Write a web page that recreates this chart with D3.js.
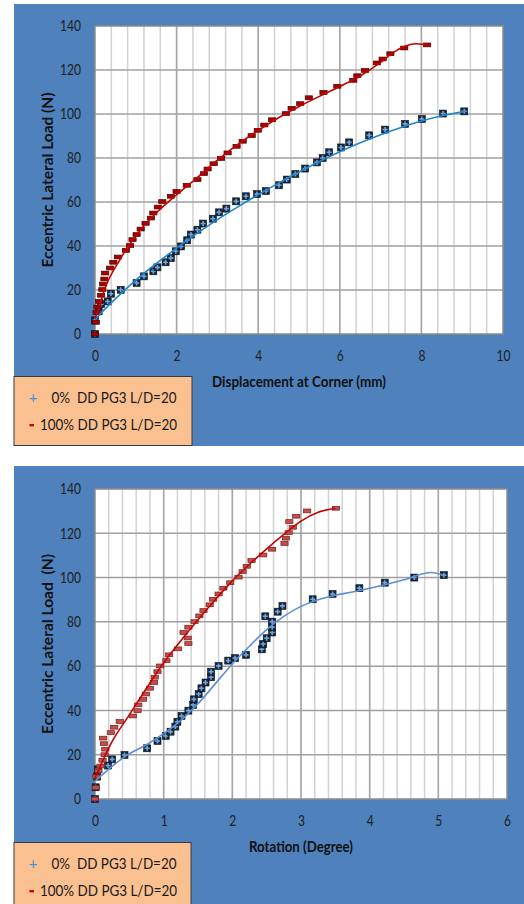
<!DOCTYPE html>
<html>
<head>
<meta charset="utf-8">
<script src="https://cdn.jsdelivr.net/npm/d3@7"></script>
<style>
    body { margin: 0; background: #fff; }
    svg { display: block; }
    text { font-family: Lato, "Open Sans", sans-serif; white-space: pre; }
</style>
</head>
<body>
<svg id="chart" width="524" height="904"></svg>
<script>
'use strict';

// legend + axis text
var legendLabels = ["0%  DD PG3 L/D=20", "100% DD PG3 L/D=20"];
var yTitle1 = "Eccentric Lateral Load (N)";
var yTitle2 = "Eccentric Lateral Load  (N)";
var xTitle1 = "Displacement at Corner (mm)";
var xTitle2 = "Rotation (Degree)";
var yTicks = [0, 20, 40, 60, 80, 100, 120, 140];
var xTicks1 = [0, 2, 4, 6, 8, 10];
var xTicks2 = [0, 1, 2, 3, 4, 5, 6];

// chart 1: displacement (mm) vs load (N)
var dispBlue = [[0,0],[0,6.2],[0.09,10.3],[0.15,13.6],[0.31,14.8],[0.39,18.3],[0.63,20.1],[1.02,23.2],[1.2,26.2],
    [1.43,28.5],[1.53,30.3],[1.73,32.6],[1.86,34.5],[1.98,37.6],[2.11,39.8],[2.26,42.6],[2.35,45.2],[2.51,47.4],
    [2.65,50.2],[2.89,52.4],[3.04,55.3],[3.22,57],[3.46,60.3],[3.7,62.6],[3.97,63.6],[4.19,65],[4.51,67.6],
    [4.7,70.2],[4.91,72.7],[5.15,75.2],[5.44,78],[5.58,80],[5.74,82.6],[6.03,84.8],[6.23,87.1],[6.72,90.3],
    [7.11,92.9],[7.6,95.5],[8.01,97.7],[8.53,100.2],[9.05,101.2]];
var dispRed = [[0,0],[0.02,5.3],[0.04,9.8],[0.06,12.3],[0.1,14.8],[0.15,17.6],[0.18,20.2],[0.2,22.7],[0.23,25],
    [0.25,27.7],[0.37,30],[0.45,32.6],[0.56,35],[0.76,38],[0.86,40.2],[0.92,42.9],[1.02,45.2],[1.12,47.7],
    [1.24,50.3],[1.37,52.7],[1.43,55],[1.54,57.7],[1.65,60.2],[1.86,62.6],[2.0,64.8],[2.25,67.6],[2.51,70.2],
    [2.67,72.9],[2.76,75],[2.91,77.4],[3.09,79.8],[3.25,82.3],[3.47,85.3],[3.62,87.6],[3.84,90.2],[3.99,92.6],
    [4.15,95],[4.34,97.4],[4.68,100.2],[4.82,102.6],[5.03,104.7],[5.24,107.4],[5.6,109.8],[5.94,112.6],
    [6.33,115.3],[6.43,117.4],[6.62,119.8],[6.91,123.2],[7.05,125],[7.24,127.4],[7.58,130],[8.14,131.4]];
var dispBlueTrend = [[0,6.5],[0.2,10.5],[0.5,16],[1,24.5],[1.5,32],[2,39],[2.5,45.7],[3,52],[3.5,57.8],[4,63.3],
    [4.5,68.6],[5,73.6],[5.5,78.4],[6,82.8],[6.5,86.9],[7,90.6],[7.5,93.9],[8,96.8],[8.5,99.2],[9.07,101.2]];
var dispRedTrend = [[0,7],[0.08,11],[0.25,21],[0.6,33.5],[1.1,47],[1.5,55],[2,63.3],[2.5,71],[3,79],
    [3.5,86.2],[4,92.5],[4.5,98.3],[5,103.4],[5.5,108],[6,112.5],[6.5,117.3],[7,123.5],[7.3,127.8],
    [7.6,130.8],[7.88,131.9],[8.2,131.2]];

// chart 2: rotation (degree) vs load (N)
var rotBlue = [[0,0],[0.01,5.3],[0.03,10.1],[0.04,13.4],[0.19,15.1],[0.25,17.9],[0.43,19.9],[0.76,22.9],
    [0.91,26.2],[1.03,28.5],[1.1,30.4],[1.17,32.7],[1.2,34.9],[1.26,37.5],[1.36,39.9],[1.43,42.5],[1.44,45],
    [1.51,47.4],[1.55,50],[1.61,52.6],[1.69,55],[1.69,57.5],[1.8,60.1],[1.94,62.5],[2.04,63.6],[2.2,65.1],
    [2.43,67.6],[2.45,70],[2.5,72.6],[2.58,75.2],[2.58,77.6],[2.58,80.1],[2.48,82.5],[2.66,84.6],[2.73,87.2],
    [3.17,90.2],[3.46,92.6],[3.85,95.2],[4.22,97.7],[4.65,100],[5.08,101.1]];
var rotRed = [[0,0],[0.01,5.1],[0.02,10.1],[0.05,12.7],[0.08,14.9],[0.11,17.5],[0.14,20],[0.15,22.5],[0.13,25],
    [0.12,27.5],[0.23,30],[0.28,32.4],[0.36,35],[0.55,37.5],[0.62,39.9],[0.63,42.5],[0.7,45],[0.74,47.4],
    [0.8,50],[0.86,52.6],[0.87,55],[0.91,57.5],[0.95,60.1],[1.04,62.5],[1.08,65.1],[1.21,67.8],[1.36,70.2],
    [1.35,72.7],[1.29,75.2],[1.36,77.6],[1.45,80.1],[1.52,82.7],[1.58,85.1],[1.67,87.7],[1.72,90.2],[1.8,92.6],
    [1.87,95.2],[1.97,97.7],[2.09,100.2],[2.15,102.7],[2.21,105.1],[2.28,107.7],[2.45,110.2],[2.58,112.8],
    [2.76,115.4],[2.78,117.8],[2.82,120.3],[2.88,122.7],[2.83,125.3],[2.93,127.7],[3.09,130.1],[3.51,131.3]];
var rotBlueTrend = [[0,8],[0.2,13.5],[0.45,19.5],[0.75,24.5],[1,29.5],[1.25,35.5],[1.5,43],[1.75,52],[2,61],
    [2.25,69],[2.5,76.5],[2.75,82.5],[3,87],[3.25,90],[3.5,92],[3.75,93.5],[4,95.2],[4.25,97],[4.5,99],
    [4.75,101.5],[4.9,102.3],[5.08,101]];
var rotRedTrend = [[0,9.5],[0.25,26],[0.5,38],[0.75,50],[1,61.5],[1.25,71.5],[1.5,81],[1.75,90],[2,98.5],
    [2.25,106],[2.5,113],[2.75,119.5],[3,125.5],[3.25,129.5],[3.5,131.3]];

var svg = d3.select('#chart');

// squeeze text to the narrow width seen in the picture
function fit(sel, perChar) {
    sel.each(function() {
        var t = d3.select(this);
        t.attr('textLength', t.text().length * perChar).attr('lengthAdjust', 'spacingAndGlyphs');
    });
}

function drawChart(c) {
    var g = svg.append('g');
    g.append('rect')
        .attr('x', c.panel[0]).attr('y', c.panel[1])
        .attr('width', c.panel[2]).attr('height', c.panel[3])
        .style('fill', '#4f81bd');

    var x = d3.scaleLinear().domain([0, c.xMax]).range([c.left, c.right]);
    var y = d3.scaleLinear().domain([0, 140]).range([c.bottom, c.top]);

    g.append('rect')
        .attr('x', c.left).attr('y', c.top)
        .attr('width', c.right - c.left).attr('height', c.bottom - c.top)
        .style('fill', '#fff');

    // gridlines
    g.selectAll('line.vminor').data(d3.range(c.minor, c.xMax - 0.001, c.minor)).enter()
        .append('line')
        .attr('x1', function(d) { return x(d); }).attr('x2', function(d) { return x(d); })
        .attr('y1', c.top).attr('y2', c.bottom)
        .style('stroke', '#d2d2d2').style('stroke-width', 1.5);
    g.selectAll('line.vmajor').data(c.xTicks.slice(1, -1)).enter()
        .append('line')
        .attr('x1', function(d) { return x(d); }).attr('x2', function(d) { return x(d); })
        .attr('y1', c.top).attr('y2', c.bottom)
        .style('stroke', '#a6a6a6').style('stroke-width', 1.5);
    g.selectAll('line.hgrid').data(yTicks.slice(1, -1)).enter()
        .append('line')
        .attr('x1', c.left).attr('x2', c.right)
        .attr('y1', function(d) { return y(d); }).attr('y2', function(d) { return y(d); })
        .style('stroke', '#a0a0a0').style('stroke-width', 1.5);
    g.append('rect')
        .attr('x', c.left).attr('y', c.top)
        .attr('width', c.right - c.left).attr('height', c.bottom - c.top)
        .style('fill', 'none').style('stroke', '#8c8c8c').style('stroke-width', 1.5);

    // axes (labels only)
    var ya = g.append('g').attr('transform', 'translate(' + (c.left - 14) + ',0)')
        .call(d3.axisLeft(y).tickValues(yTicks).tickFormat(d3.format('d')).tickSize(0).tickPadding(0));
    var xa = g.append('g').attr('transform', 'translate(0,' + (c.bottom + 16) + ')')
        .call(d3.axisBottom(x).tickValues(c.xTicks).tickFormat(d3.format('d')).tickSize(0).tickPadding(0));
    [ya, xa].forEach(function(a) {
        a.select('.domain').remove();
        a.selectAll('text').style('font-family', 'Lato, sans-serif').style('font-size', '15px').style('fill', '#1e1e1e');
        fit(a.selectAll('text'), 7);
    });

    g.append('text')
        .attr('x', (c.left + c.right) / 2).attr('y', c.xTitleY)
        .attr('text-anchor', 'middle')
        .style('font-size', '14.5px').style('font-weight', 'bold').style('fill', '#111')
        .attr('textLength', c.xTitleW).attr('lengthAdjust', 'spacingAndGlyphs')
        .text(c.xTitle);
    g.append('text')
        .attr('transform', 'translate(' + 53 + ',' + (c.top + c.bottom) / 2 + ') rotate(-90)')
        .attr('text-anchor', 'middle')
        .style('font-size', '14.5px').style('font-weight', 'bold').style('fill', '#111')
        .attr('textLength', c.yTitleW).attr('lengthAdjust', 'spacingAndGlyphs')
        .text(c.yTitle);

    // markers: blue squares with a light plus, red dashes
    var bm = g.selectAll('g.bm').data(c.blue).enter().append('g')
        .attr('transform', function(d) { return 'translate(' + x(d[0]) + ',' + y(d[1]) + ')'; });
    bm.append('rect').attr('x', -3.5).attr('y', -3.5).attr('width', 7).attr('height', 7)
        .style('fill', '#16263a').style('stroke', '#0d1622').style('stroke-width', 0.6);
    bm.append('path').attr('d', 'M-2.5,0H2.5M0,-2.5V2.5')
        .style('stroke', '#6fa3dc').style('stroke-width', 1.6);
    g.selectAll('rect.rm').data(c.red).enter().append('rect')
        .attr('x', function(d) { return x(d[0]) - 3.6; })
        .attr('y', function(d) { return y(d[1]) - 1.9; })
        .attr('width', 7.2).attr('height', 3.8)
        .style('fill', c.redFill).style('stroke', c.redStroke).style('stroke-width', 0.7);

    var line = d3.line()
        .x(function(d) { return x(d[0]); })
        .y(function(d) { return y(d[1]); })
        .curve(d3.curveMonotoneX);
    g.append('path').datum(c.blueTrend).attr('d', line)
        .style('fill', 'none').style('stroke', c.blueLine).style('stroke-width', 1.6);
    g.append('path').datum(c.redTrend).attr('d', line)
        .style('fill', 'none').style('stroke', '#c80000').style('stroke-width', 1.6);

    // legend
    g.append('rect')
        .attr('x', c.legend[0]).attr('y', c.legend[1])
        .attr('width', c.legend[2]).attr('height', c.legend[3])
        .style('fill', '#fac090').style('stroke', '#3a3a3a').style('stroke-width', 1);
    var ly = [c.legend[1] + 26.5, c.legend[1] + 53];
    g.append('text').attr('x', 33).attr('y', ly[0] - 0.5).attr('text-anchor', 'middle')
        .style('font-size', '15px').style('fill', '#4a8fd0').text('+');
    g.append('rect').attr('x', 29.5).attr('y', ly[1] - 5.5).attr('width', 4.5).attr('height', 2.4)
        .style('fill', '#d00000');
    g.append('text').attr('x', 51.5).attr('y', ly[0])
        .style('font-size', '15.5px').style('fill', '#1a1a1a')
        .attr('textLength', 125).attr('lengthAdjust', 'spacingAndGlyphs')
        .text(legendLabels[0]);
    g.append('text').attr('x', 40).attr('y', ly[1])
        .style('font-size', '15.5px').style('fill', '#1a1a1a')
        .attr('textLength', 137).attr('lengthAdjust', 'spacingAndGlyphs')
        .text(legendLabels[1]);
}

drawChart({
    panel: [14, 4, 510, 442], left: 95, right: 503, top: 26, bottom: 334,
    xMax: 10, minor: 0.4, xTicks: xTicks1, xTitle: xTitle1, yTitle: yTitle1, xTitleY: 387,
    xTitleW: 174, yTitleW: 175,
    blue: dispBlue, red: dispRed, blueTrend: dispBlueTrend, redTrend: dispRedTrend,
    blueLine: '#1f86d0', redFill: '#a80000', redStroke: '#4a0000',
    legend: [14, 376.5, 178, 69]
});
drawChart({
    panel: [14, 466, 510, 438], left: 95, right: 507, top: 489, bottom: 799,
    xMax: 6, minor: 0.2, xTicks: xTicks2, xTitle: xTitle2, yTitle: yTitle2, xTitleY: 852,
    xTitleW: 104, yTitleW: 180,
    blue: rotBlue, red: rotRed, blueTrend: rotBlueTrend, redTrend: rotRedTrend,
    blueLine: '#5b8fd4', redFill: '#c0504d', redStroke: '#7a1a18',
    legend: [14, 842.5, 177, 70]
});
</script>
</body>
</html>
